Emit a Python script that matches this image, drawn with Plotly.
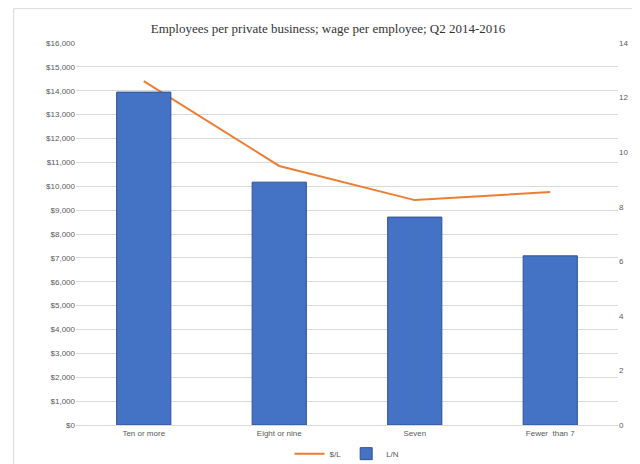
import plotly.graph_objects as go

categories = ["Ten or more", "Eight or nine", "Seven", "Fewer  than 7"]
wage = [14400, 10850, 9420, 9760]
emp = [12.2, 8.9, 7.62, 6.2]

fig = go.Figure()
fig.add_trace(go.Bar(x=categories, y=emp, name="L/N", marker=dict(color="#4472C4", line=dict(color="#2F528F", width=1)),
                     width=0.4, yaxis="y2"))
fig.add_trace(go.Scatter(x=categories, y=wage, name="$/L", mode="lines",
                         line=dict(color="#ED7D31", width=2), yaxis="y"))
fig.update_layout(
    width=640, height=464, paper_bgcolor="white", plot_bgcolor="white",
    margin=dict(l=68, r=30, t=35, b=47, autoexpand=False),
    title=dict(text="Employees per private business; wage per employee; Q2 2014-2016", x=0.5, y=0.965,
               font=dict(family="Liberation Serif, serif", size=13, color="#333")),
    font=dict(family="Liberation Sans, Arial", size=9, color="#595959"),
    xaxis=dict(showline=True, linecolor="#d9d9d9", tickfont=dict(size=8)),
    yaxis=dict(range=[0, 16000], dtick=1000, tickprefix="$", tickformat=",", gridcolor="#d9d9d9",
               zeroline=False, tickfont=dict(size=8)),
    yaxis2=dict(range=[0, 14], dtick=2, overlaying="y", side="right", showgrid=False,
                zeroline=False, tickfont=dict(size=8)),
    legend=dict(orientation="h", x=0.5, xanchor="center", y=-0.075, yanchor="middle", traceorder="reversed",
                font=dict(size=8)),
    shapes=[dict(type="rect", xref="paper", yref="paper", x0=-0.115, x1=1.05, y0=-0.125, y1=1.09,
                 line=dict(color="#d9d9d9", width=1))],
)
fig.write_html("out.html")
